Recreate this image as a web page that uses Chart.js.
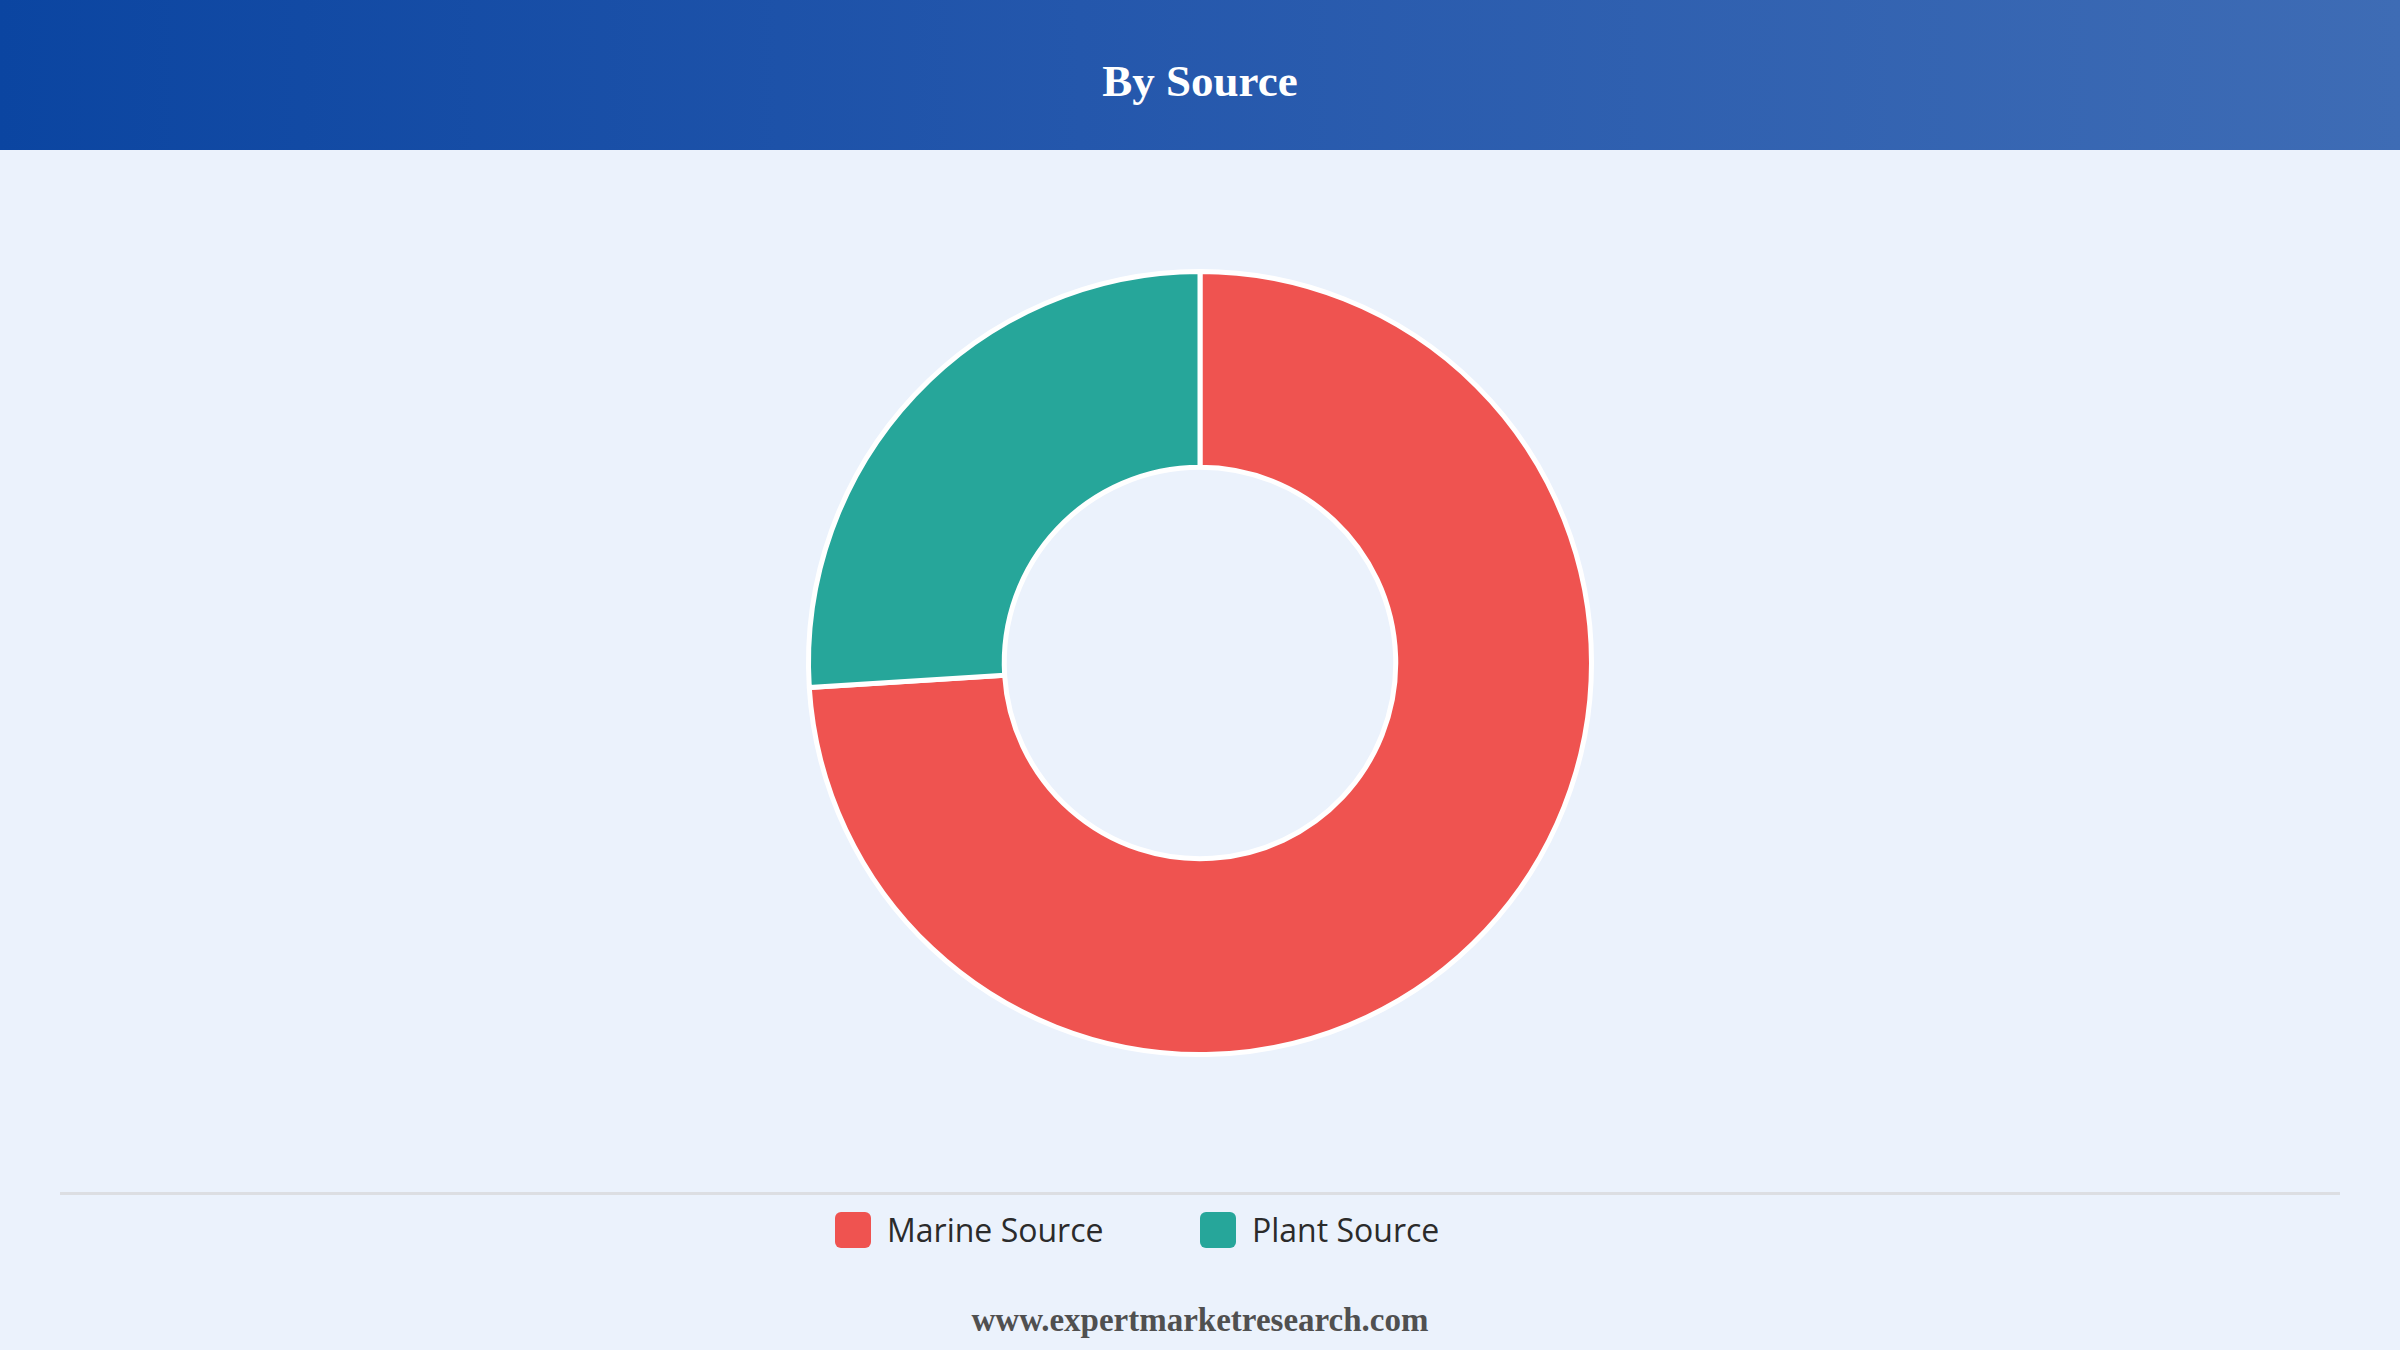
<!DOCTYPE html>
<html>
<head>
<meta charset="utf-8">
<script src="https://cdn.jsdelivr.net/npm/chart.js@4.4.1/dist/chart.umd.min.js"></script>
<style>
  html, body { margin: 0; padding: 0; }
  body { width: 2400px; height: 1350px; background: #EBF2FC; position: relative; overflow: hidden; }
  #header { position: absolute; left: 0; top: 0; width: 2400px; height: 150px;
    background: linear-gradient(90deg, #0B45A1 0%, #2457AC 45%, #3E6CB5 100%); }
  #title { position: absolute; left: 0; top: 0; width: 2400px; height: 162px; line-height: 162px; text-align: center;
    color: #ffffff; font-family: "Liberation Serif", "DejaVu Serif", serif; font-weight: bold; font-size: 45px; }
  #chartBox { position: absolute; left: 0; top: 269px; width: 2400px; height: 788px; }
  #divider { position: absolute; left: 60px; top: 1192px; width: 2280px; height: 3px; background: #DCDEE2; }
  #legend { position: absolute; left: 835px; top: 1212px; display: flex; }
  .item { width: 365px; display: flex; align-items: center; height: 36px; }
  .box { width: 36px; height: 36px; border-radius: 6px; margin-right: 16px; flex: none; }
  .lbl { font-family: "Open Sans", "Noto Sans", sans-serif; font-size: 32px; color: #2b2b2b; line-height: 36px; }
  #footer { position: absolute; left: 0; top: 1298px; width: 2400px; text-align: center; line-height: 44px;
    font-family: "Liberation Serif", "DejaVu Serif", serif; font-weight: bold; font-size: 33px; color: #505050; }
</style>
</head>
<body>
<div id="header"></div>
<div id="title">By Source</div>
<div id="chartBox"><canvas id="c"></canvas></div>
<div id="divider"></div>
<div id="legend"></div>
<div id="footer">www.expertmarketresearch.com</div>
<script>
const categories = ["Marine Source", "Plant Source"];
const shares = [74, 26];
const colors = ["#EF5350", "#26A69A"];

const legend = document.getElementById('legend');
categories.forEach((name, i) => {
  const item = document.createElement('div');
  item.className = 'item';
  const box = document.createElement('div');
  box.className = 'box';
  box.style.background = colors[i];
  const lbl = document.createElement('span');
  lbl.className = 'lbl';
  lbl.textContent = name;
  item.appendChild(box);
  item.appendChild(lbl);
  legend.appendChild(item);
});

new Chart(document.getElementById('c'), {
  type: 'doughnut',
  data: {
    labels: categories,
    datasets: [{
      data: shares,
      backgroundColor: colors,
      borderColor: '#ffffff',
      borderWidth: 5,
      hoverOffset: 0
    }]
  },
  options: {
    responsive: true,
    maintainAspectRatio: false,
    animation: false,
    cutout: '50%',
    layout: { padding: 0 },
    plugins: {
      legend: { display: false },
      tooltip: { enabled: false },
      title: { display: false }
    }
  }
});
</script>
</body>
</html>
